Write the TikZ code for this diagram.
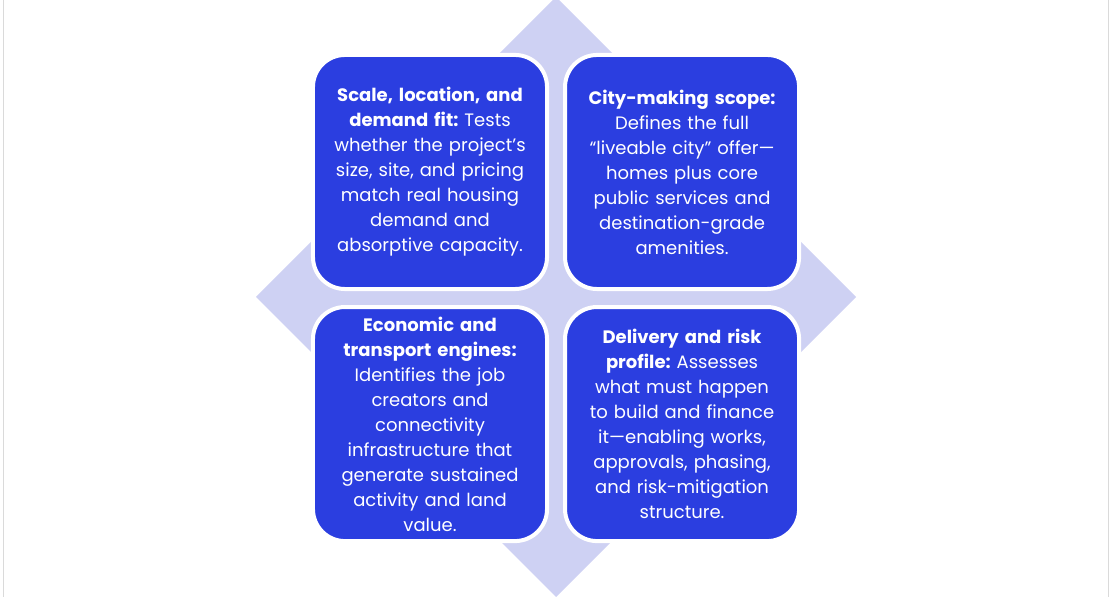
\documentclass[tikz,border=0pt]{standalone}
\usepackage{fontspec}
\setmainfont{Poppins}
\usetikzlibrary{positioning}
\frenchspacing

\definecolor{boxblue}{HTML}{2B3EE0}
\definecolor{lavender}{HTML}{CED1F3}
\definecolor{framegray}{HTML}{DADADA}

\begin{document}
\begin{tikzpicture}[x=0.025cm,y=0.025cm,
    quad/.style={fill=boxblue,draw=white,line width=0.1cm,rounded corners=0.8cm,
        minimum width=5.85cm,minimum height=5.85cm,outer sep=0pt,inner sep=0pt,
        text width=5.4cm,align=center,text=white,
        font=\fontsize{12.8}{17.8}\selectfont}]
    \useasboundingbox (0,0) rectangle (1112,597);
    \draw[framegray,line width=1.2pt] (3.5,0) -- (3.5,597);
    \draw[framegray,line width=1.2pt] (1108.5,0) -- (1108.5,597);

    \fill[lavender] (556,600) -- (856,300) -- (556,0) -- (256,300) -- cycle;

    \node[quad] (scale) at (430,425) {\textbf{Scale, location, and}\\
        \textbf{demand fit:} Tests\\ whether the project’s\\ size, site, and pricing\\
        match real housing\\ demand and\\ absorptive capacity.};
    \node[quad,right=0.45cm of scale] (scope) {\textbf{City-making scope:}\\
        Defines the full\\ “liveable city” offer—\\ homes plus core\\
        public services and\\ destination-grade\\ amenities.};
    \node[quad,below=0.45cm of scale] (engines) {\textbf{Economic and}\\
        \textbf{transport engines:}\\ Identifies the job\\ creators and\\ connectivity\\
        infrastructure that\\ generate sustained\\ activity and land\\ value.};
    \node[quad,right=0.45cm of engines] (delivery) {\textbf{Delivery and risk}\\
        \textbf{profile:} Assesses\\ what must happen\\ to build and finance\\
        it—enabling works,\\ approvals, phasing,\\ and risk-mitigation\\ structure.};
\end{tikzpicture}
\end{document}
